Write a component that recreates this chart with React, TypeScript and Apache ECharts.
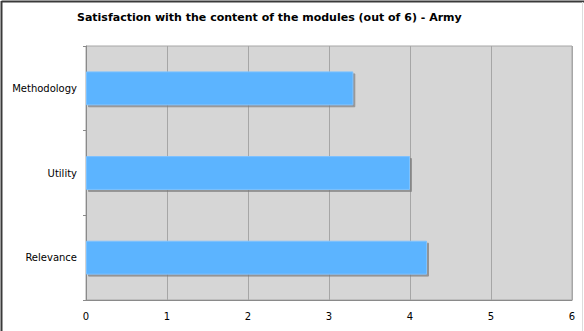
import React, { useEffect, useRef } from "react";
import * as echarts from "echarts";

const title = "Satisfaction with the content of the modules (out of 6) - Army";
const categories = ["Relevance", "Utility", "Methodology"];
const scores = [4.21, 4.0, 3.3];
const xTicks = [0, 1, 2, 3, 4, 5, 6];

export default function App() {
  const ref = useRef<HTMLDivElement>(null);

  useEffect(() => {
    if (!ref.current) return;
    const chart = echarts.init(ref.current, null, { renderer: "svg" });
    const font = "'DejaVu Sans', Verdana, sans-serif";
    chart.setOption({
      animation: false,
      backgroundColor: "#ffffff",
      textStyle: { fontFamily: font },
      title: {
        text: title,
        left: 72,
        top: 7,
        textStyle: { fontFamily: font, fontSize: 11, fontWeight: "bold", color: "#000" },
      },
      grid: {
        left: 86,
        right: 12,
        top: 46,
        bottom: 31,
        show: true,
        backgroundColor: "#d6d6d6",
        borderColor: "#a6a6a6",
        borderWidth: 1,
      },
      xAxis: {
        type: "value",
        min: xTicks[0],
        max: xTicks[xTicks.length - 1],
        interval: 1,
        axisLine: { show: true, lineStyle: { color: "#8a8a8a", width: 1 } },
        axisTick: { show: false },
        axisLabel: { color: "#000", fontSize: 10, fontFamily: font, margin: 11 },
        splitLine: { show: true, lineStyle: { color: "#a6a6a6", width: 1 } },
      },
      yAxis: {
        type: "category",
        data: categories,
        axisLine: { show: true, lineStyle: { color: "#8a8a8a", width: 1 } },
        axisTick: { show: true, length: 3, lineStyle: { color: "#8a8a8a" } },
        axisLabel: { color: "#000", fontSize: 10, fontFamily: font, margin: 9 },
      },
      series: [
        {
          type: "bar",
          data: scores,
          barCategoryGap: "60%",
          itemStyle: {
            color: "#5cb4ff",
            borderColor: "#7cc2ff",
            borderWidth: 1,
            shadowColor: "rgba(120,120,120,0.7)",
            shadowOffsetX: 2,
            shadowOffsetY: 2,
            shadowBlur: 1,
          },
        },
      ],
      graphic: [
        { type: "line", shape: { x1: 1.5, y1: 1.5, x2: 584, y2: 1.5 }, style: { stroke: "#3a3a3a", lineWidth: 2 } },
        { type: "line", shape: { x1: 1.5, y1: 1, x2: 1.5, y2: 331 }, style: { stroke: "#3a3a3a", lineWidth: 2 } },
        { type: "line", shape: { x1: 582.5, y1: 2, x2: 582.5, y2: 331 }, style: { stroke: "#dcdcdc", lineWidth: 1 } },
      ],
    });
    return () => chart.dispose();
  }, []);

  return (
    <div
      ref={ref}
      style={{ position: "fixed", left: 0, top: 0, width: 584, height: 331 }}
    />
  );
}
